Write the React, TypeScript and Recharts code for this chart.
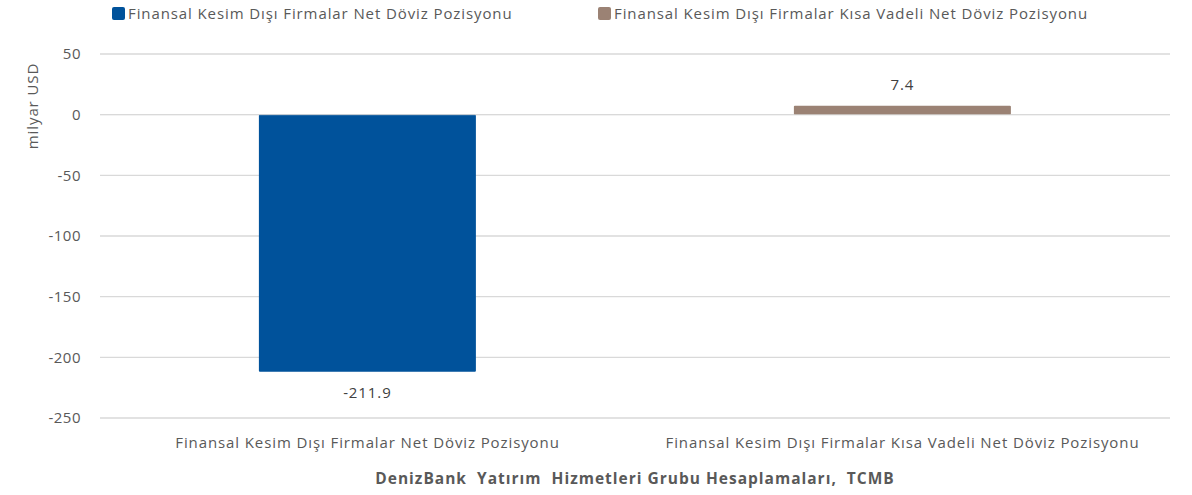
import { BarChart, Bar, XAxis, YAxis, CartesianGrid, Legend, LabelList, ReferenceLine } from 'recharts';

const categories = [
  'Finansal Kesim Dışı Firmalar Net Döviz Pozisyonu',
  'Finansal Kesim Dışı Firmalar Kısa Vadeli Net Döviz Pozisyonu',
];
const netPozisyon = [-211.9, null];
const kisaVadeliPozisyon = [null, 7.4];
const yTicks = [-250, -200, -150, -100, -50, 0, 50];

const seriesNames = [
  'Finansal Kesim Dışı Firmalar Net Döviz Pozisyonu',
  'Finansal Kesim Dışı Firmalar Kısa Vadeli Net Döviz Pozisyonu',
];
const seriesColors = ['#00529b', '#9b8274'];

const FONT = '"Open Sans", "Noto Sans", sans-serif';
const GREY = '#595959';
const SPACING = 0.9;

const chartData = categories.map((name, i) => ({
  name,
  net: netPozisyon[i],
  kisa: kisaVadeliPozisyon[i],
}));

function ValueLabel(props: any) {
  const { x, y, width, height, value } = props;
  if (value == null) return null;
  const top = Math.min(y, y + height);
  const bottom = Math.max(y, y + height);
  const ty = value < 0 ? bottom + 20 : top - 22;
  return (
    <text x={x + width / 2} y={ty} textAnchor="middle" dominantBaseline="central"
      fontSize={15} letterSpacing={SPACING} fill="#404040" fontFamily={FONT}>
      {value.toFixed(1)}
    </text>
  );
}

function TopLegend() {
  const lefts = [112, 598];
  return (
    <div style={{ position: 'relative', height: 30, width: 1192 }}>
      {seriesNames.map((n, i) => (
        <div key={n} style={{ position: 'absolute', left: lefts[i], top: 3, display: 'flex', alignItems: 'center', whiteSpace: 'nowrap' }}>
          <span style={{ display: 'inline-block', width: 13, height: 13, background: seriesColors[i], borderRadius: 2, marginRight: 3 }} />
          <span style={{ fontSize: 15, letterSpacing: SPACING, color: GREY, fontFamily: FONT }}>{n}</span>
        </div>
      ))}
    </div>
  );
}

export default function App() {
  return (
    <div style={{ position: 'absolute', left: 0, top: 0, width: 1192, height: 495, background: '#fff' }}>
      <BarChart
        width={1192}
        height={495}
        data={chartData}
        margin={{ top: 24, right: 22, bottom: 0, left: 0 }}
        barCategoryGap="29.7%"
      >
        <Legend verticalAlign="top" align="left" content={() => <TopLegend />} wrapperStyle={{ left: 0, top: 0, width: 1192 }} />
        <CartesianGrid vertical={false} stroke="#d9d9d9" strokeWidth={1.3} />
        <XAxis
          dataKey="name"
          axisLine={false}
          tickLine={false}
          tickSize={0}
          tickMargin={19}
          height={77}
          interval={0}
          tick={{ fontSize: 15, fill: GREY, fontFamily: FONT, letterSpacing: SPACING }}
          label={(p: any) => {
            const vb = p.viewBox;
            return (
              <text x={vb.x + vb.width / 2} y={vb.y + 60} textAnchor="middle" dominantBaseline="central"
                fontSize={15.5} fontWeight="bold" letterSpacing={1} fill={GREY} fontFamily={FONT}
                style={{ whiteSpace: 'pre' }}>
                {'DenizBank  Yatırım  Hizmetleri Grubu Hesaplamaları,  TCMB'}
              </text>
            );
          }}
        />
        <YAxis
          domain={[-250, 50]}
          ticks={yTicks}
          axisLine={false}
          tickLine={false}
          tickSize={0}
          tickMargin={19}
          width={100}
          tick={{ fontSize: 15, fill: GREY, fontFamily: FONT, letterSpacing: 0.5 }}
          label={() => (
            <text x={32} y={106} transform="rotate(-90 32 106)" textAnchor="middle" dominantBaseline="central"
              fontSize={15} letterSpacing={SPACING} fill={GREY} fontFamily={FONT}>
              milyar USD
            </text>
          )}
        />
        <Bar dataKey="net" name={seriesNames[0]} stackId="a" fill={seriesColors[0]} radius={1} isAnimationActive={false}>
          <LabelList dataKey="net" content={ValueLabel} />
        </Bar>
        <Bar dataKey="kisa" name={seriesNames[1]} stackId="a" fill={seriesColors[1]} radius={1} isAnimationActive={false}>
          <LabelList dataKey="kisa" content={ValueLabel} />
        </Bar>
        <ReferenceLine y={0} stroke="#d9d9d9" strokeOpacity={0.6} strokeWidth={1.3} />
      </BarChart>
    </div>
  );
}
